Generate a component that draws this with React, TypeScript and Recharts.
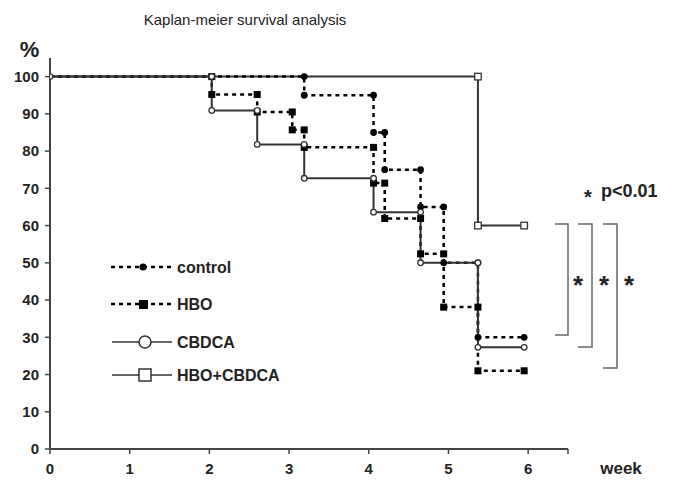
import { LineChart, Line, XAxis, YAxis } from 'recharts';

// weeks at which each group drops, and the survival (%) after each drop
const controlTimes = [3.19, 4.06, 4.2, 4.65, 4.94, 5.37];
const controlSurvival = [95, 85, 75, 65, 50, 30];
const hboTimes = [2.03, 2.6, 3.04, 3.19, 4.06, 4.2, 4.65, 4.94, 5.37];
const hboSurvival = [95.2, 90.5, 85.7, 81, 71.4, 61.9, 52.4, 38.1, 21];
const cbdcaTimes = [2.03, 2.6, 3.19, 4.06, 4.65, 5.37];
const cbdcaSurvival = [90.9, 81.8, 72.7, 63.6, 50, 27.3];
const comboTimes = [5.37];
const comboSurvival = [60];
const followUpEnd = 5.95;

const xTicks = [0, 1, 2, 3, 4, 5, 6, 6.5];
const yTicks = [0, 10, 20, 30, 40, 50, 60, 70, 80, 90, 100];

const FONT = '"Liberation Sans", Arial, sans-serif';
const DASH = '4 4';

type Pt = { x: number; y: number };

function stepPoints(times: number[], surv: number[], end: number): Pt[] {
  const pts: Pt[] = [{ x: 0, y: 100 }];
  let prev = 100;
  times.forEach((t, i) => {
    pts.push({ x: t, y: prev });
    pts.push({ x: t, y: surv[i] });
    prev = surv[i];
  });
  pts.push({ x: end, y: prev });
  return pts;
}

const controlData = stepPoints(controlTimes, controlSurvival, followUpEnd);
const hboData = stepPoints(hboTimes, hboSurvival, followUpEnd);
const cbdcaData = stepPoints(cbdcaTimes, cbdcaSurvival, followUpEnd);
const comboData = stepPoints(comboTimes, comboSurvival, followUpEnd);

type Shape = 'dot' | 'square' | 'openDot' | 'openSquare';

function makeDot(shape: Shape, skipFirst: boolean) {
  return (props: any) => {
    const { cx, cy, index } = props;
    const key = `d-${shape}-${index}`;
    if (skipFirst && index === 0) return <g key={key} />;
    if (shape === 'dot') return <circle key={key} cx={cx} cy={cy} r={3.4} fill="#000" />;
    if (shape === 'square')
      return <rect key={key} x={cx - 3.5} y={cy - 3.5} width={7} height={7} fill="#000" />;
    if (shape === 'openDot')
      return <circle key={key} cx={cx} cy={cy} r={2.8} fill="#fff" stroke="#333" strokeWidth={1.3} />;
    return (
      <rect key={key} x={cx - 3.3} y={cy - 3.3} width={6.6} height={6.6} fill="#fff" stroke="#333" strokeWidth={1.3} />
    );
  };
}

const tickStyle = { fill: '#222', fontSize: 15, fontWeight: 'bold', fontFamily: FONT };

export default function App() {
  return (
    <div style={{ position: 'absolute', left: 0, top: 0, width: 677, height: 480, background: '#fff' }}>
      <LineChart
        width={677}
        height={480}
        margin={{ top: 58, right: 109, bottom: 0, left: 0 }}
      >
        <XAxis
          type="number"
          dataKey="x"
          domain={[0, 6.5]}
          ticks={xTicks}
          tickFormatter={(v: number) => (v === 6.5 ? '' : String(v))}
          height={31}
          tickSize={5}
          tickMargin={9}
          axisLine={{ stroke: '#444', strokeWidth: 2 }}
          tickLine={{ stroke: '#444', strokeWidth: 1.5 }}
          tick={tickStyle}
          allowDataOverflow
        />
        <YAxis
          type="number"
          domain={[0, 105]}
          ticks={yTicks}
          width={50}
          tickSize={5}
          tickMargin={6}
          axisLine={{ stroke: '#444', strokeWidth: 2 }}
          tickLine={{ stroke: '#444', strokeWidth: 1.5 }}
          tick={tickStyle}
          allowDataOverflow
        />
        <Line
          data={comboData}
          dataKey="y"
          type="linear"
          stroke="#333"
          strokeWidth={2}
          dot={makeDot('openSquare', true)}
          activeDot={false}
          isAnimationActive={false}
        />
        <Line
          data={controlData}
          dataKey="y"
          type="linear"
          stroke="#000"
          strokeWidth={2.5}
          strokeDasharray={DASH}
          dot={makeDot('dot', true)}
          activeDot={false}
          isAnimationActive={false}
        />
        <Line
          data={hboData}
          dataKey="y"
          type="linear"
          stroke="#000"
          strokeWidth={2.5}
          strokeDasharray={DASH}
          dot={makeDot('square', true)}
          activeDot={false}
          isAnimationActive={false}
        />
        <Line
          data={cbdcaData}
          dataKey="y"
          type="linear"
          stroke="#333"
          strokeWidth={2}
          dot={makeDot('openDot', false)}
          activeDot={false}
          isAnimationActive={false}
        />
      </LineChart>

      <svg
        width={677}
        height={480}
        style={{ position: 'absolute', left: 0, top: 0, pointerEvents: 'none' }}
        fontFamily={FONT}
      >
        <text x={245} y={25} textAnchor="middle" fontSize={15} fill="#222">
          Kaplan-meier survival analysis
        </text>
        <text x={29.5} y={57} textAnchor="middle" fontSize={22} fontWeight="bold" fill="#222">
          %
        </text>
        <text x={621} y={474} textAnchor="middle" fontSize={17} fontWeight="bold" fill="#222">
          week
        </text>

        {/* legend */}
        <line x1={111} y1={267} x2={173} y2={267} stroke="#000" strokeWidth={2.5} strokeDasharray={DASH} />
        <circle cx={143} cy={267} r={3.6} fill="#000" />
        <text x={177} y={273} fontSize={16} fontWeight="bold" fill="#222">control</text>

        <line x1={111} y1={304} x2={173} y2={304} stroke="#000" strokeWidth={2.5} strokeDasharray={DASH} />
        <rect x={139} y={300} width={9} height={9} fill="#000" />
        <text x={177} y={310} fontSize={16} fontWeight="bold" fill="#222">HBO</text>

        <line x1={112} y1={342} x2={172} y2={342} stroke="#333" strokeWidth={1.5} />
        <circle cx={145} cy={342} r={6} fill="#fff" stroke="#333" strokeWidth={1.5} />
        <text x={177} y={348} fontSize={16} fontWeight="bold" fill="#222">CBDCA</text>

        <line x1={112} y1={375} x2={172} y2={375} stroke="#333" strokeWidth={1.5} />
        <rect x={139} y={369} width={12} height={12} fill="#fff" stroke="#333" strokeWidth={1.5} />
        <text x={177} y={381} fontSize={16} fontWeight="bold" fill="#222">HBO+CBDCA</text>

        {/* significance brackets */}
        <text x={588} y={204} textAnchor="middle" fontSize={20} fontWeight="bold" fill="#222">*</text>
        <text x={601} y={197} fontSize={18} fontWeight="bold" fill="#222">p&lt;0.01</text>

        <path d="M555 224 H568 V335 H555" fill="none" stroke="#666" strokeWidth={1.5} />
        <path d="M578 224 H592 V347 H578" fill="none" stroke="#666" strokeWidth={1.5} />
        <path d="M603 224 H617 V368 H603" fill="none" stroke="#666" strokeWidth={1.5} />
        <text x={578} y={294} textAnchor="middle" fontSize={26} fontWeight="bold" fill="#222">*</text>
        <text x={604} y={294} textAnchor="middle" fontSize={26} fontWeight="bold" fill="#222">*</text>
        <text x={629} y={294} textAnchor="middle" fontSize={26} fontWeight="bold" fill="#222">*</text>
      </svg>
    </div>
  );
}
